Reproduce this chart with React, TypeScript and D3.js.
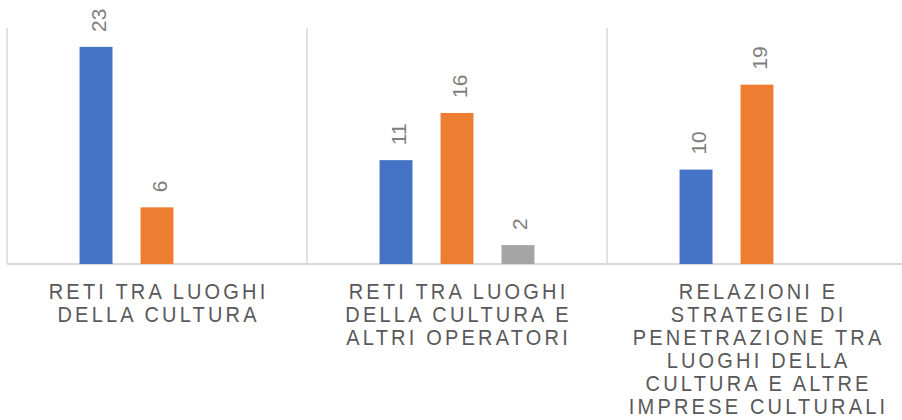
import React from "react";
import * as d3 from "d3";

const categories: string[][] = [
  ["RETI TRA LUOGHI", "DELLA CULTURA"],
  ["RETI TRA LUOGHI", "DELLA CULTURA E", "ALTRI OPERATORI"],
  ["RELAZIONI E", "STRATEGIE DI", "PENETRAZIONE TRA", "LUOGHI DELLA", "CULTURA E ALTRE", "IMPRESE CULTURALI"],
];
const seriesNames = ["S1", "S2", "S3"];
const series1: (number | null)[] = [23, 11, 10];
const series2: (number | null)[] = [6, 16, 19];
const series3: (number | null)[] = [null, 2, null];
const seriesValues = [series1, series2, series3];
const colors = ["#4472C4", "#ED7D31", "#A5A5A5"];

const W = 902;
const H = 420;

export default function App() {
  const catIdx = categories.map((_, i) => String(i));
  const x0 = d3.scaleBand<string>().domain(catIdx).range([7, 907]).padding(0);
  const x1 = d3
    .scaleBand<string>()
    .domain(seriesNames)
    .range([0, x0.bandwidth()])
    .paddingInner(0.46)
    .paddingOuter(1.19);
  const y = d3.scaleLinear().domain([0, 25]).range([264, 28]);
  const font = "'Liberation Sans', Arial, sans-serif";

  return (
    <svg
      width={W}
      height={H}
      style={{ position: "absolute", left: 0, top: 0, background: "#fff" }}
      fontFamily={font}
    >
      {catIdx.map((c) => (
        <line
          key={"sep" + c}
          x1={x0(c)!}
          x2={x0(c)!}
          y1={y(25)}
          y2={y(0)}
          stroke="#D9D9D9"
          strokeWidth={1.5}
        />
      ))}
      <line x1={7} x2={W} y1={y(0)} y2={y(0)} stroke="#D9D9D9" strokeWidth={2} />
      {seriesValues.map((vals, si) =>
        vals.map((v, ci) => {
          if (v == null) return null;
          const bx = x0(String(ci))! + x1(seriesNames[si])!;
          const bw = x1.bandwidth();
          const top = y(v);
          return (
            <g key={`b${si}-${ci}`}>
              <rect x={bx} y={top} width={bw} height={y(0) - top} fill={colors[si]} />
              <text
                transform={`translate(${bx + bw / 2 + 9.5},${top - 15}) rotate(-90)`}
                fontSize={21}
                fill="#7F7F7F"
                textAnchor="start"
              >
                {v}
              </text>
            </g>
          );
        })
      )}
      {categories.map((lines, ci) => {
        const cx = x0(String(ci))! + x0.bandwidth() / 2;
        return (
          <g key={"cat" + ci}>
            {lines.map((ln, li) => (
              <text
                key={li}
                transform={`translate(${cx + 1.6},${299 + li * 23}) scale(1,1.12)`}
                fontSize={20}
                fill="#595959"
                textAnchor="middle"
                letterSpacing={3.2}
              >
                {ln}
              </text>
            ))}
          </g>
        );
      })}
    </svg>
  );
}
